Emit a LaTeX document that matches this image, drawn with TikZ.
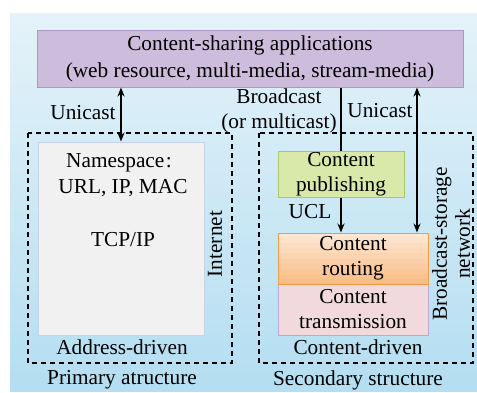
\documentclass[tikz,border=0pt]{standalone}
\usepackage{fontspec}
\newfontfamily\serifface{Liberation Serif}
\usetikzlibrary{arrows.meta}

\definecolor{bgtop}{HTML}{E4F2F9}
\definecolor{bgbot}{HTML}{B4DEF1}
\definecolor{appfill}{HTML}{CDBCDB}
\definecolor{appdraw}{HTML}{AC9AC6}
\definecolor{nsfill}{HTML}{F1F1F1}
\definecolor{nsdraw}{HTML}{C9D3E6}
\definecolor{pubfill}{HTML}{D9E9A9}
\definecolor{pubdraw}{HTML}{A9C86A}
\definecolor{routetop}{HTML}{FDE6D2}
\definecolor{routebot}{HTML}{F9BE88}
\definecolor{routedraw}{HTML}{F19B45}
\definecolor{transfill}{HTML}{F1D9DD}
\definecolor{transdraw}{HTML}{B9A9D9}

\begin{document}
\begin{tikzpicture}[x=1pt,y=-1pt,
  txt/.style={font=\serifface\fontsize{21.3}{25}\selectfont, text=black, align=center, inner sep=0pt},
  box/.style={txt, draw, line width=1pt, minimum width=#1},
  region/.style={draw=black, line width=1.1pt, dash pattern=on 5pt off 4pt},
  link/.style={draw=black, line width=1.6pt, -{Stealth[length=9pt,width=7pt]}},
  twoway/.style={draw=black, line width=1.6pt, {Stealth[length=9pt,width=7pt]}-{Stealth[length=9pt,width=7pt]}},
  plain/.style={draw=black, line width=1.6pt}]

\useasboundingbox (0,0) rectangle (477,392);
% background: vertical gradient built from thin bands
\foreach \i in {0,...,37} {
  \pgfmathsetmacro{\pct}{100-\i*100/37}
  \fill[bgtop!\pct!bgbot] (10,{13+\i*10}) rectangle (477,{min(392,23.5+\i*10)});
}

% two structures
\draw[region] (28,133) rectangle (232,363);
\draw[region] (259,133) rectangle (473,363);

% application layer
\node[box=426pt, minimum height=57pt, fill=appfill, draw=appdraw,
      font=\serifface\fontsize{21.3}{27}\selectfont] (apps) at (250,58.5)
  {Content-sharing applications\\(web resource, multi-media, stream-media)};

% primary structure
\node[box=166pt, minimum height=193pt, fill=nsfill, draw=nsdraw] (ns) at (121,238.5) {};
\node[txt] (nstext) at (126,163) {Namespace\kern1.5pt:\kern14pt};
\node[txt] (addrs) at (123,188) {URL, IP, MAC};
\node[txt] (tcp) at (123,240) {TCP/IP};
\node[txt, rotate=90] (inet) at (215,244) {Internet};

% secondary structure
\node[box=126pt, minimum height=46pt, fill=pubfill, draw=pubdraw] (pub) at (341,174)
  {Content\\publishing};
% routing box: light-to-orange bands under the label
\foreach \i in {0,...,9} {
  \pgfmathsetmacro{\pct}{100-\i*100/9}
  \fill[routetop!\pct!routebot] (278,{233+\i*5.1}) rectangle (428,{238.6+\i*5.1});
}
\node[box=150pt, minimum height=51pt, draw=routedraw] (route) at (353,258.5) {Content\\routing};
\node[box=150pt, minimum height=51pt, fill=transfill, draw=transdraw] (trans) at (353,309.5)
  {Content\\transmission};
\draw[routedraw, line width=1pt] (route.south west) -- (route.south east);
\node[txt, rotate=90, font=\serifface\fontsize{21.3}{23}\selectfont] (bsn) at (451,244)
  {Broadcast-storage\\network};

% connectors
\coordinate (rx) at (417,0);
\draw[twoway] (apps.south -| ns.north) -- (ns.north);
\draw[plain] (apps.south -| pub.north) -- (pub.north);
\draw[link] (pub.south) -- (pub.south |- route.north);
\draw[twoway] (apps.south -| rx) -- (route.north -| rx);

% labels
\node[txt] (uc1) at (83,113) {Unicast};
\node[txt] (bc) at (279,110.5) {Broadcast\\(or multicast)};
\node[txt] (uc2) at (380,111) {Unicast};
\node[txt] (ucl) at (310,212) {UCL};
\node[txt] (addr) at (122,347) {Address-driven};
\node[txt] (cont) at (358,347) {Content-driven};
\node[txt] (prim) at (122,380) {Primary atructure};
\node[txt] (sec) at (358,380) {Secondary structure};
\end{tikzpicture}
\end{document}
